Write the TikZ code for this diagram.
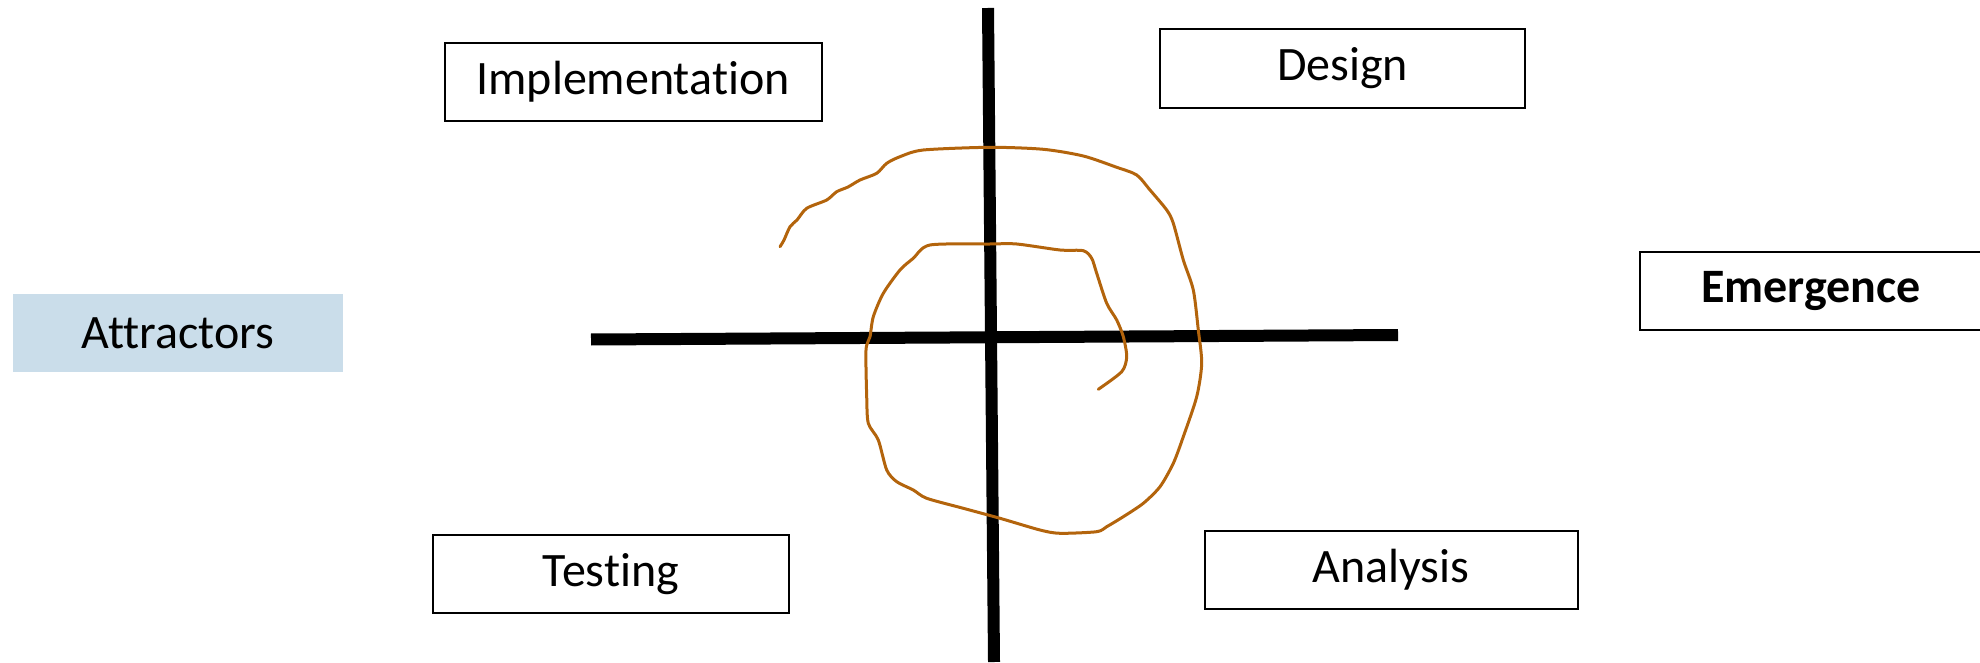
\documentclass[tikz,border=0pt]{standalone}
\usepackage{fontspec}
\setmainfont[Ligatures=NoCommon]{Carlito}
\usetikzlibrary{positioning}
\definecolor{ink}{HTML}{000000}
\definecolor{attract}{HTML}{CADDEA}
\definecolor{swirl}{HTML}{B3640C}

\begin{document}
\begin{tikzpicture}[
  x=0.5pt, y=-0.5pt,
  font=\fontsize{24}{28}\selectfont,
  phase/.style={draw=ink, line width=1pt, minimum height=39pt, inner sep=0pt},
  axis/.style={draw=ink, line width=6pt},
  spiral/.style={draw=swirl, line width=1.5pt, line join=round, line cap=round}
]
\useasboundingbox (0,0) rectangle (1980,663);
\clip (0,0) rectangle (1980,663);

% quadrants
\node[phase, minimum width=188.5pt] (impl) at (633,82) {Implementation};
\node[phase, minimum width=182.5pt, minimum height=39.5pt] (design) at (1342.5,68.5) {Design};
\node[phase, minimum width=178pt] (testing) at (611,574) {Testing};
\node[phase, minimum width=186.5pt] (analysis) at (1391,570) {Analysis};
\node[phase, minimum width=180pt] (emerg) at (1820,291) {\hspace*{-9pt}\textbf{Emergence}};
\node[fill=attract, minimum width=165pt, minimum height=39pt, inner sep=0pt] (attr) at (178,333) {Attractors};

% axes
\coordinate (vtop) at (988,8);
\coordinate (vbot) at (994,662);
\coordinate (hleft) at (591,339.5);
\coordinate (hright) at (1398,335);
\draw[axis] (vtop) -- (vbot);
\draw[axis] (hleft) -- (hright);

% spiral
\draw[spiral] plot[smooth, tension=0.45] coordinates {
  (780,246.7) (784,240) (790,226.7) (797,220) (806.7,208.3) (826.7,200) (836.7,191.7)
  (848,187) (860,180) (876.7,173.3) (886.7,163.3) (900,156.7) (923.3,150)
  (990,147.3) (1043.3,149.3) (1083.3,156) (1116.7,167.3) (1136.7,175)
  (1150,190) (1166.7,210) (1173.3,223.3) (1183.3,260) (1193.3,290)
  (1198.3,330) (1201.7,363.3) (1196.7,396.7) (1183.3,436.7) (1173.3,463.3)
  (1160,486.7) (1143.3,503.3) (1123.3,516.7) (1106.7,526.7) (1096.7,531.7)
  (1060,533.3) (1040,530) (1000,518.3) (963.3,508.3) (926.7,498.3)
  (913.3,490) (896.7,481.7) (886.7,470) (878.3,440) (868.3,423.3)
  (866.7,396.7) (866,350) (870,336.7) (873.3,316.7) (883.3,293.3)
  (900,270) (913.3,258.3) (930,245) (990,244) (1016.7,244) (1060,250)
  (1083.3,250.7) (1091.7,258.3) (1096.7,273.3) (1106.7,303.3) (1116.7,320)
  (1123.3,336.7) (1126.7,356.7) (1121.7,371.7) (1098.3,389.3)
};
\end{tikzpicture}
\end{document}
